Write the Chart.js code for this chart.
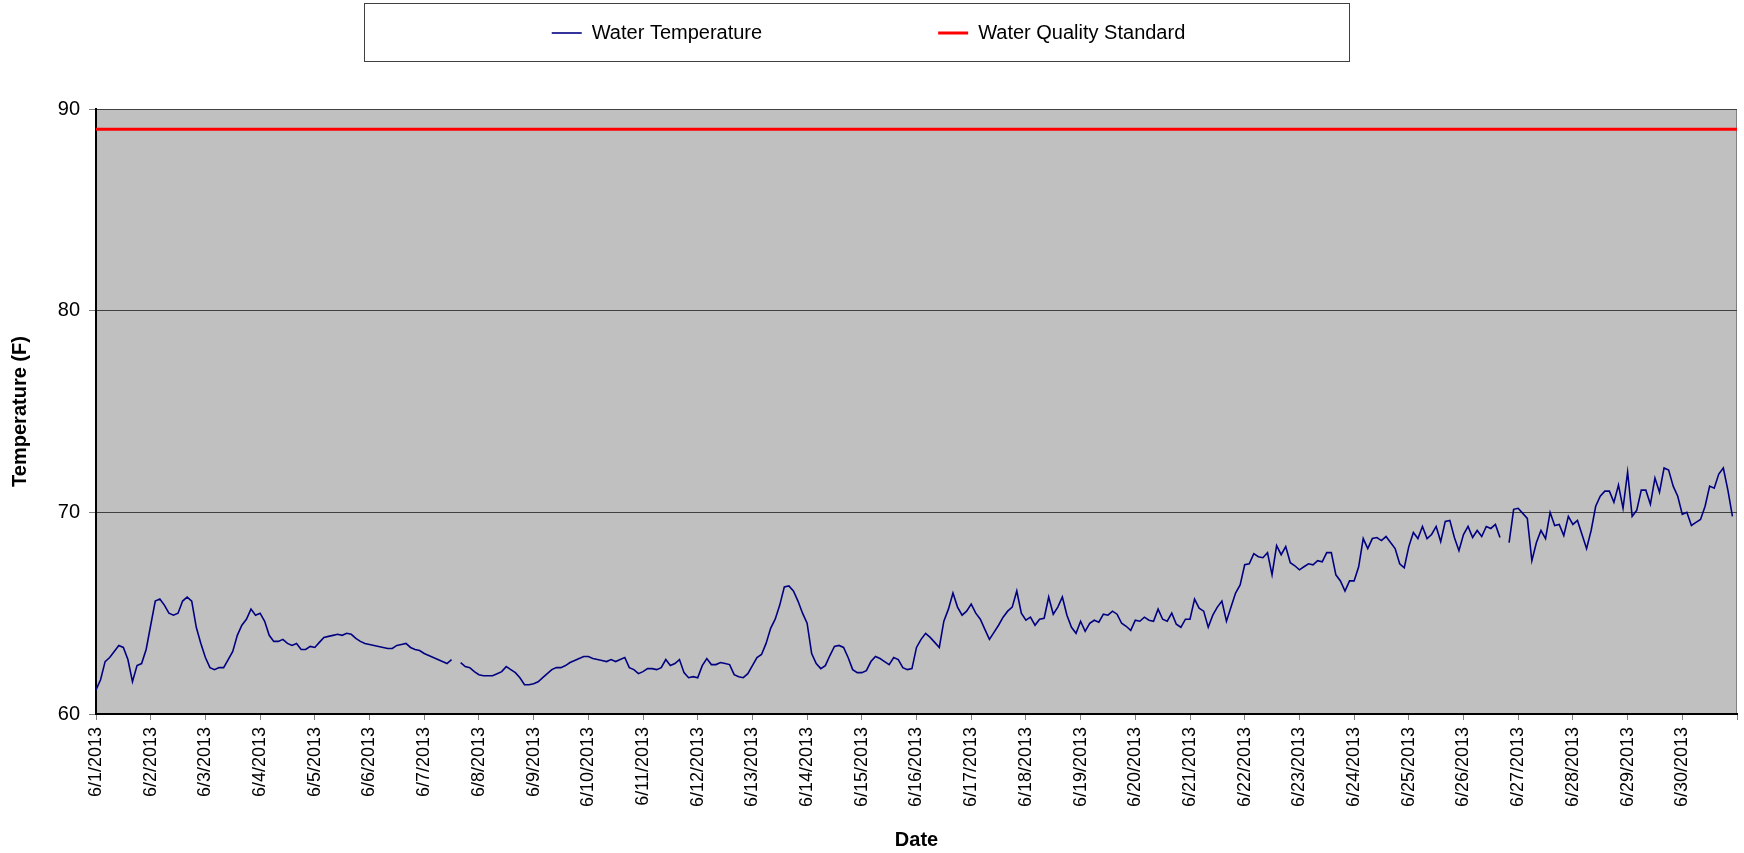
<!DOCTYPE html>
<html>
<head>
<meta charset="utf-8">
<title>Water Temperature - June 2013</title>
<script src="https://cdn.jsdelivr.net/npm/chart.js@4.4.1/dist/chart.umd.min.js"></script>
<style>
  html, body { margin: 0; padding: 0; background: #fff; }
  #wrap { width: 1744px; height: 853px; }
</style>
</head>
<body>
<div id="wrap"><canvas id="tempChart" width="1744" height="853"></canvas></div>
<script>
// one tick label per day
const dayLabels = [
    "6/1/2013", "6/2/2013", "6/3/2013", "6/4/2013", "6/5/2013", "6/6/2013",
    "6/7/2013", "6/8/2013", "6/9/2013", "6/10/2013", "6/11/2013", "6/12/2013",
    "6/13/2013", "6/14/2013", "6/15/2013", "6/16/2013", "6/17/2013", "6/18/2013",
    "6/19/2013", "6/20/2013", "6/21/2013", "6/22/2013", "6/23/2013", "6/24/2013",
    "6/25/2013", "6/26/2013", "6/27/2013", "6/28/2013", "6/29/2013", "6/30/2013"
];

// water temperature (F), one reading every 2 hours, null = no data
const hoursPerReading = 2;
const waterTemp = [
    61.2, 61.7, 62.6, 62.8, 63.1, 63.4, 63.3, 62.7, 61.6, 62.4, 62.5, 63.2,         // 6/1
    64.4, 65.6, 65.7, 65.4, 65.0, 64.9, 65.0, 65.6, 65.8, 65.6, 64.3, 63.5,         // 6/2
    62.8, 62.3, 62.2, 62.3, 62.3, 62.7, 63.1, 63.9, 64.4, 64.7, 65.2, 64.9,         // 6/3
    65.0, 64.6, 63.9, 63.6, 63.6, 63.7, 63.5, 63.4, 63.5, 63.2, 63.2, 63.35,        // 6/4
    63.3, 63.55, 63.8, 63.85, 63.9, 63.95, 63.9, 64.0, 63.95, 63.75, 63.6, 63.5,    // 6/5
    63.45, 63.4, 63.35, 63.3, 63.25, 63.25, 63.4, 63.45, 63.5, 63.3, 63.2, 63.15,   // 6/6
    63.0, 62.9, 62.8, 62.7, 62.6, 62.5, 62.7, null, 62.55, 62.35, 62.3, 62.1,       // 6/7
    61.95, 61.9, 61.9, 61.9, 62.0, 62.1, 62.35, 62.2, 62.05, 61.8, 61.45, 61.45,    // 6/8
    61.5, 61.6, 61.8, 62.0, 62.2, 62.3, 62.3, 62.4, 62.55, 62.65, 62.75, 62.85,     // 6/9
    62.85, 62.75, 62.7, 62.65, 62.6, 62.7, 62.6, 62.7, 62.8, 62.3, 62.2, 62.0,      // 6/10
    62.1, 62.25, 62.25, 62.2, 62.3, 62.7, 62.4, 62.5, 62.7, 62.05, 61.8, 61.85,     // 6/11
    61.8, 62.4, 62.75, 62.45, 62.45, 62.55, 62.5, 62.45, 61.95, 61.85, 61.8, 62.0,  // 6/12
    62.4, 62.8, 62.95, 63.5, 64.25, 64.7, 65.4, 66.3, 66.35, 66.1, 65.6, 65.0,      // 6/13
    64.5, 63.0, 62.5, 62.25, 62.4, 62.9, 63.35, 63.4, 63.3, 62.8, 62.2, 62.05,      // 6/14
    62.05, 62.15, 62.6, 62.85, 62.75, 62.6, 62.45, 62.8, 62.7, 62.3, 62.2, 62.25,   // 6/15
    63.3, 63.7, 64.0, 63.8, 63.55, 63.3, 64.6, 65.2, 66.0, 65.3, 64.9, 65.1,        // 6/16
    65.45, 65.0, 64.7, 64.2, 63.7, 64.05, 64.4, 64.8, 65.1, 65.3, 66.1, 65.0,       // 6/17
    64.65, 64.8, 64.4, 64.7, 64.75, 65.8, 64.95, 65.3, 65.8, 64.9, 64.3, 64.0,      // 6/18
    64.6, 64.1, 64.5, 64.65, 64.55, 64.95, 64.9, 65.1, 64.95, 64.5, 64.35, 64.15,   // 6/19
    64.65, 64.6, 64.8, 64.65, 64.6, 65.2, 64.7, 64.6, 65.0, 64.45, 64.3, 64.7,      // 6/20
    64.7, 65.7, 65.25, 65.1, 64.3, 64.9, 65.3, 65.6, 64.6, 65.3, 66.0, 66.4,        // 6/21
    67.4, 67.45, 67.95, 67.8, 67.75, 68.0, 66.9, 68.35, 67.9, 68.3, 67.5, 67.35,    // 6/22
    67.15, 67.3, 67.45, 67.4, 67.6, 67.55, 68.0, 68.0, 66.9, 66.6, 66.1, 66.6,      // 6/23
    66.6, 67.3, 68.7, 68.2, 68.7, 68.75, 68.6, 68.8, 68.5, 68.2, 67.45, 67.25,      // 6/24
    68.3, 69.0, 68.7, 69.3, 68.7, 68.9, 69.3, 68.55, 69.55, 69.6, 68.75, 68.1,      // 6/25
    68.9, 69.3, 68.75, 69.1, 68.8, 69.3, 69.2, 69.4, 68.75, null, 68.5, 70.15,      // 6/26
    70.2, 69.95, 69.7, 67.6, 68.5, 69.1, 68.7, 70.0, 69.35, 69.4, 68.85, 69.8,      // 6/27
    69.4, 69.6, 68.9, 68.2, 69.1, 70.3, 70.8, 71.05, 71.05, 70.5, 71.35, 70.2,      // 6/28
    72.0, 69.8, 70.1, 71.1, 71.1, 70.4, 71.7, 71.0, 72.2, 72.1, 71.3, 70.8,         // 6/29
    69.9, 70.0, 69.35, 69.5, 69.65, 70.3, 71.3, 71.2, 71.9, 72.2, 71.1, 69.8        // 6/30
];

const qualityStandard = 89;
const yTicks = [60, 70, 80, 90];

const tempPoints = waterTemp.map((t, i) => ({ x: i * hoursPerReading / 24, y: t }));
const standardPoints = [
    { x: 0, y: qualityStandard },
    { x: dayLabels.length, y: qualityStandard }
];

// grey plot area, framed legend, and extra room under the legend
const chartBackground = {
    id: 'chartBackground',
    beforeInit(chart) {
        const legend = chart.legend;
        if (legend) {
            const fit = legend.fit;
            legend.fit = function () {
                fit.call(this);
                this.height = 262;
            };
        }
    },
    beforeDraw(chart) {
        const { ctx, chartArea: a, legend } = chart;
        ctx.save();
        ctx.fillStyle = '#c0c0c0';
        ctx.fillRect(a.left, a.top, a.right - a.left, a.bottom - a.top);
        ctx.strokeStyle = '#808080';
        ctx.lineWidth = 1;
        ctx.strokeRect(a.left + 0.5, a.top + 0.5, a.right - a.left - 1, a.bottom - a.top);

        const boxes = legend && legend.legendHitBoxes;
        if (boxes && boxes.length) {
            const first = boxes[0];
            const last = boxes[boxes.length - 1];
            const cx = (first.left + last.left + last.width) / 2;
            ctx.fillStyle = '#fff';
            ctx.fillRect(cx - 505, 3, 985, 58);
            ctx.strokeStyle = '#404040';
            ctx.strokeRect(Math.round(cx - 505) + 0.5, 3.5, 985, 58);
        }
        ctx.restore();
    }
};

Chart.defaults.font.family = "Arial, 'Liberation Sans', sans-serif";
Chart.defaults.color = '#000';

const ctx = document.getElementById('tempChart').getContext('2d');

new Chart(ctx, {
    type: 'line',
    data: {
        datasets: [
            {
                label: 'Water Temperature',
                data: tempPoints,
                borderColor: '#000080',
                backgroundColor: '#000080',
                borderWidth: 1.6,
                pointRadius: 0,
                tension: 0,
                spanGaps: false
            },
            {
                label: 'Water Quality Standard',
                data: standardPoints,
                borderColor: '#ff0000',
                backgroundColor: '#ff0000',
                borderWidth: 3,
                pointRadius: 0
            }
        ]
    },
    options: {
        responsive: false,
        animation: false,
        layout: {
            padding: { top: -153, right: 7, bottom: 0, left: 0 }
        },
        plugins: {
            legend: {
                position: 'top',
                labels: {
                    usePointStyle: true,
                    pointStyle: 'line',
                    pointStyleWidth: 30,
                    padding: 176,
                    font: { size: 20 },
                    color: '#000'
                }
            },
            tooltip: { enabled: false }
        },
        scales: {
            x: {
                type: 'linear',
                min: 0,
                max: dayLabels.length,
                afterFit(scale) {
                    scale.height = 139;
                    scale.paddingLeft = 0;
                    scale.paddingRight = 0;
                },
                ticks: {
                    stepSize: 1,
                    autoSkip: false,
                    maxRotation: 90,
                    minRotation: 90,
                    padding: 7,
                    font: { size: 18 },
                    callback: (value) => dayLabels[value] || ''
                },
                grid: {
                    drawOnChartArea: false,
                    tickLength: 6,
                    tickColor: '#808080'
                },
                border: { color: '#000', width: 2 },
                title: {
                    display: true,
                    text: 'Date',
                    font: { size: 20, weight: 'bold' },
                    padding: { top: 4, bottom: 1 }
                }
            },
            y: {
                min: yTicks[0],
                max: yTicks[yTicks.length - 1],
                afterFit(scale) { scale.width = 96; },
                afterBuildTicks(scale) { scale.ticks = yTicks.map(v => ({ value: v })); },
                ticks: {
                    padding: 9,
                    font: { size: 20 }
                },
                grid: {
                    color: '#404040',
                    tickLength: 7,
                    tickColor: '#808080'
                },
                border: { color: '#000', width: 2 },
                title: {
                    display: true,
                    text: 'Temperature (F)',
                    font: { size: 20, weight: 'bold' },
                    padding: { top: 8, bottom: 0 }
                }
            }
        }
    },
    plugins: [chartBackground]
});
</script>
</body>
</html>
